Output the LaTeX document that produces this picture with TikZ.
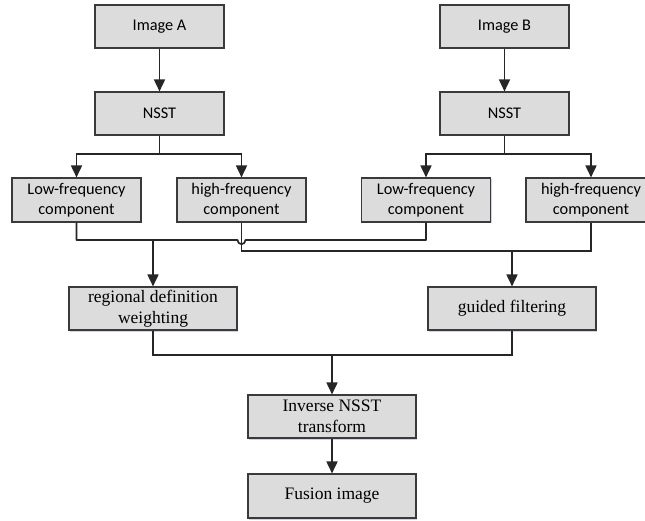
\documentclass[tikz,border=0pt]{standalone}
\usepackage{fontspec}
\setmainfont{Liberation Serif}
\newfontfamily\calib{Carlito}
\usetikzlibrary{arrows.meta,shadows}
\definecolor{boxfill}{HTML}{DCDCDC}
\definecolor{boxdraw}{HTML}{3A3A3A}
\begin{document}
\begin{tikzpicture}[x=1pt,y=-1pt,
  blk/.style={draw=boxdraw,fill=boxfill,line width=1.1pt,minimum height=43pt,
    inner sep=1pt,align=center,
    drop shadow={opacity=0.25,shadow xshift=1.2pt,shadow yshift=-1.5pt,fill=gray!60!blue}},
  sbox/.style={blk,minimum width=129pt,font=\calib\fontsize{16.3}{20.5}\selectfont},
  tbox/.style={blk,minimum width=168pt,font=\fontsize{17.5}{21.5}\selectfont},
  ln/.style={line width=1.7pt,black!85},
  arr/.style={ln,-{Triangle[length=12pt,width=11pt]}}]
\useasboundingbox (0,0) rectangle (645,521);
\clip (0,0) rectangle (645,521);
\node[sbox] (imgA) at (159.5,26.5) {Image A};
\node[sbox] (nsstA) at (159.5,113.5) {NSST};
\node[sbox] (imgB) at (504.5,26.5) {Image B};
\node[sbox] (nsstB) at (504.5,113.5) {NSST};
\node[sbox,minimum height=44pt] (lowA) at (76.5,200) {Low-frequency\\component};
\node[sbox,minimum height=44pt] (highA) at (241.5,200) {high-frequency\\component};
\node[sbox,minimum height=44pt] (lowB) at (426,200) {Low-frequency\\component};
\node[sbox,minimum height=44pt,minimum width=130pt] (highB) at (591,200) {high-frequency\\component};
\node[tbox] (reg) at (153,308.5) {regional definition\\weighting};
\node[tbox] (guid) at (512,308.5) {guided filtering};
\node[tbox] (inv) at (332,416.5) {Inverse NSST\\transform};
\node[tbox,minimum height=44pt] (fus) at (332,496) {Fusion image};
% top arrows
\draw[arr] (imgA) -- (nsstA);
\draw[arr] (imgB) -- (nsstB);
\coordinate (brA) at (159.5,154);
\coordinate (brB) at (504.5,154);
\draw[ln] (nsstA) -- (brA);
\draw[ln] (nsstB) -- (brB);
\draw[arr] (brA) -| (lowA);
\draw[arr] (brA) -| (highA);
\draw[arr] (brB) -| (lowB);
\draw[arr] (brB) -| (highB);
% low-frequency merge
\coordinate (lA) at (lowA.south |- 0,240);
\coordinate (lB) at (lowB.south |- 0,240);
\coordinate (h1) at ([xshift=-4pt]highA.south |- 0,240);
\coordinate (h2) at ([xshift=4pt]highA.south |- 0,240);
\coordinate (mL) at (reg.north |- 0,240);
\draw[ln,line join=round] (lowA.south) -- (lA) -- (h1)
  .. controls ([yshift=-5.5pt]h1) and ([yshift=-5.5pt]h2) .. (h2) -- (lB) -- (lowB.south);
\draw[arr] (mL) -- (reg);
% high-frequency merge
\coordinate (hA) at (highA.south |- 0,251);
\coordinate (hB) at (highB.south |- 0,251);
\coordinate (mH) at (guid.north |- 0,251);
\draw[ln] (highA.south) -- (hA) -- (hB) -- (highB.south);
\draw[arr] (mH) -- (guid);
% bottom merge
\coordinate (mB) at (inv.north |- 0,355);
\draw[ln] (reg.south) |- (mB) -| (guid.south);
\draw[arr] (mB) -- (inv);
\draw[arr] (inv) -- (fus);
\end{tikzpicture}
\end{document}
